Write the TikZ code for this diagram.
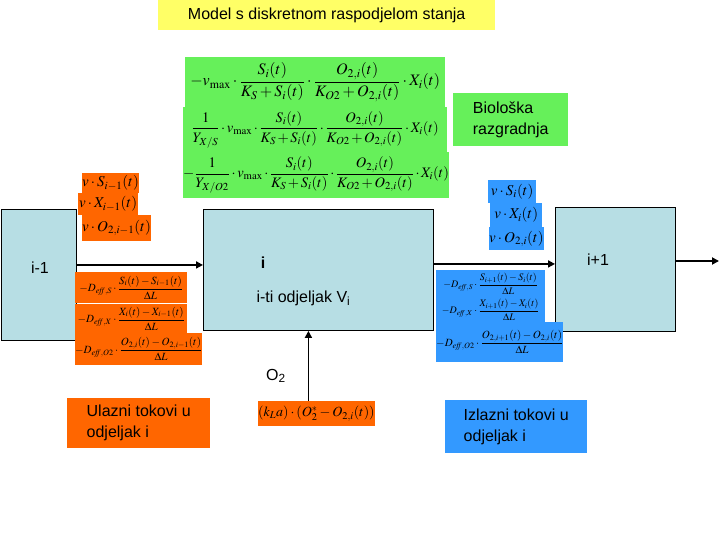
\documentclass[tikz,border=0pt]{standalone}
\usepackage{amsmath}
\usepackage{mathptmx}
\usepackage[no-math]{fontspec}
\setmainfont{Liberation Sans}
\usetikzlibrary{arrows.meta, positioning}
\definecolor{titleyellow}{RGB}{255,255,102}
\definecolor{biogreen}{RGB}{102,240,90}
\definecolor{inorange}{RGB}{255,102,0}
\definecolor{outblue}{RGB}{51,153,255}
\definecolor{cellblue}{RGB}{183,222,228}
\newcommand{\vmax}{v_{\mathrm{max}}}
\newcommand{\deff}[1]{D_{\mathit{eff},#1}}
\newcommand{\monod}{\dfrac{S_i(t)}{K_S+S_i(t)}\cdot\dfrac{O_{2,i}(t)}{K_{O2}+O_{2,i}(t)}\cdot X_i(t)}
\tikzset{
  cell/.style={
    rectangle, draw, fill=cellblue, line width=0.9pt,
    anchor=north west, inner sep=0pt
  },
  eqbox/.style={
    rectangle, anchor=north west, inner sep=0pt,
    text centered, font=\fontsize{15}{17}\selectfont
  },
  inb/.style={eqbox, fill=inorange},
  outb/.style={eqbox, fill=outblue},
  bio/.style={eqbox, fill=biogreen, font=\fontsize{16}{18}\selectfont},
  biotight/.style={bio, font=\fontsize{14.5}{16}\selectfont},
  dif/.style={font=\fontsize{11}{13}\selectfont},
  difsm/.style={font=\fontsize{10}{12}\selectfont},
  note/.style={
    rectangle, anchor=north west, inner sep=5pt, align=left,
    font=\fontsize{16}{21}\selectfont
  },
  lbl/.style={font=\fontsize{16}{19}\selectfont},
  arr/.style={-{Triangle[length=7pt,width=7pt]}, line width=1.8pt}
}

\begin{document}
\begin{tikzpicture}[x=1pt, y=-1pt]
  \useasboundingbox[fill=white] (0,0) rectangle (720,540);

  % title
  \node[note, fill=titleyellow, minimum width=337pt, minimum height=30pt,
        align=center] (title) at (158,0) {Model s diskretnom raspodjelom stanja};

  % cells
  \node[cell, minimum width=75pt,  minimum height=131pt] (cellprev) at (1,209) {};
  \node[cell, minimum width=230pt, minimum height=121pt] (cell)     at (203,209) {};
  \node[cell, minimum width=120pt, minimum height=124pt] (cellnext) at (555,207) {};
  \node[lbl] (prevlbl) at (40,268) {i-1};
  \node[lbl, font=\fontsize{16}{19}\selectfont\bfseries] (celllbl) at (263,263) {i};
  \node[lbl, anchor=west] (volume) at (253,298) {i-ti odjeljak V\textsubscript{i}};
  \node[lbl] (nextlbl) at (598,260) {i+1};

  % biological degradation
  \node[bio, minimum width=260pt, minimum height=50pt] (rs) at (185,57)
    {$-\vmax\cdot\monod$};
  \node[biotight, minimum width=264pt, minimum height=45pt] (rx) at (183,107)
    {$\medmuskip=2mu \dfrac{1}{Y_{X/S}}\cdot\vmax\cdot\monod$};
  \node[biotight, minimum width=264pt, minimum height=46pt] (ro) at (183,152)
    {$\medmuskip=2mu -\dfrac{1}{Y_{X/O2}}\cdot\vmax\cdot\monod$};
  \node[note, fill=biogreen, minimum width=115pt, minimum height=53pt,
        inner sep=8pt] (biolbl) at (453,93) {Biološka\\razgradnja};

  % inflow
  \node[inb, minimum width=53pt, minimum height=20pt] (vsin) at (82,173) {$v\cdot S_{i-1}(t)$};
  \node[inb, minimum width=60pt, minimum height=22pt] (vxin) at (78,193) {$v\cdot X_{i-1}(t)$};
  \node[inb, minimum width=65pt, minimum height=26pt] (voin) at (82,215) {$v\cdot O_{2,i-1}(t)$};
  \node[inb, dif, minimum width=112pt, minimum height=31pt] (dsin) at (75,272)
    {$-\deff{S}\cdot\dfrac{S_i(t)-S_{i-1}(t)}{\Delta L}$};
  \node[inb, dif, minimum width=112pt, minimum height=29pt] (dxin) at (75,304)
    {$-\deff{X}\cdot\dfrac{X_i(t)-X_{i-1}(t)}{\Delta L}$};
  \node[inb, dif, minimum width=122pt, minimum height=32pt] (doin) at (75,333)
    {$-\deff{O2}\cdot\dfrac{O_{2,i}(t)-O_{2,i-1}(t)}{\Delta L}$};

  % outflow
  \node[outb, minimum width=48pt, minimum height=23pt] (vsout) at (488,180) {$v\cdot S_i(t)$};
  \node[outb, minimum width=52pt, minimum height=24pt] (vxout) at (490,203) {$v\cdot X_i(t)$};
  \node[outb, minimum width=54pt, minimum height=23pt] (voout) at (489,227) {$v\cdot O_{2,i}(t)$};
  \node[outb, difsm, minimum width=109pt, minimum height=27pt] (dsout) at (436,270)
    {$-\deff{S}\cdot\dfrac{S_{i+1}(t)-S_i(t)}{\Delta L}$};
  \node[outb, difsm, minimum width=109pt, minimum height=25pt] (dxout) at (436,297)
    {$-\deff{X}\cdot\dfrac{X_{i+1}(t)-X_i(t)}{\Delta L}$};
  \node[outb, dif, minimum width=120pt, minimum height=40pt] (doout) at (436,322)
    {$-\deff{O2}\cdot\dfrac{O_{2,i+1}(t)-O_{2,i}(t)}{\Delta L}$};

  % aeration
  \node[inb, font=\fontsize{14}{16}\selectfont, minimum width=113pt, minimum height=25pt]
    (kla) at (258,401) {$(k_La)\cdot\left(O_2^{*}-O_{2,i}(t)\right)$};
  \node[lbl] (o2lbl) at (276,376) {O\textsubscript{2}};

  % legends
  \node[note, fill=inorange, minimum width=143pt, minimum height=50pt,
        inner sep=7pt] (inlbl) at (67,398) {Ulazni tokovi u\\odjeljak i};
  \node[note, fill=outblue, minimum width=142pt, minimum height=53pt,
        inner sep=7pt] (outlbl) at (445,400) {Izlazni tokovi u\\odjeljak i};

  \coordinate (exit) at (719,261);

  \draw[arr] ([yshift=5pt]cellprev.east |- cell.west) -- ([yshift=5pt]cell.west);
  \draw[arr] ([yshift=6pt]cell.east) -- ([yshift=6pt]cell.east -| cellnext.west);
  \draw[arr] (cellnext.east |- exit) -- (exit);
  \draw[arr] ([xshift=-8pt]kla.north) -- ([xshift=-8pt]kla.north |- cell.south);
\end{tikzpicture}
\end{document}
